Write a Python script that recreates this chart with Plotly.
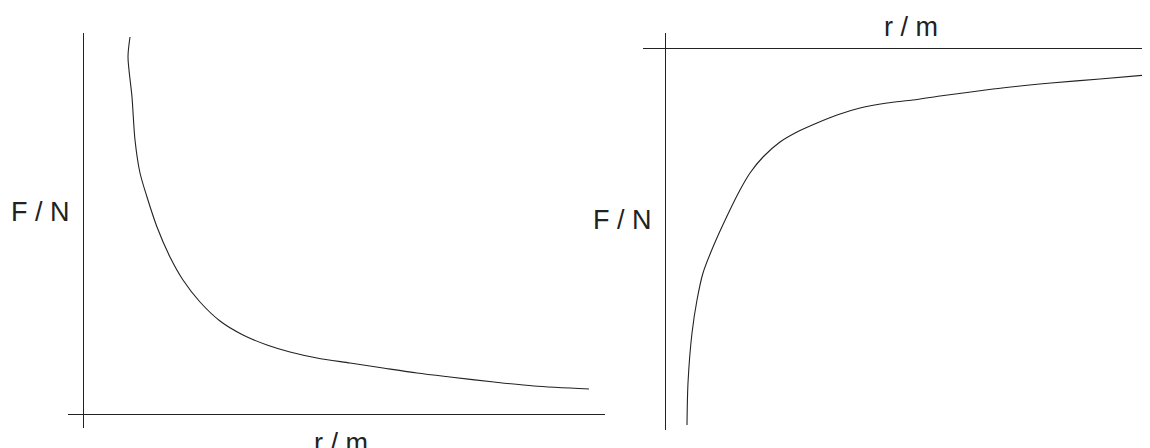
import plotly.graph_objects as go

# left sketch: force falls off with distance (repulsive)
r_left = [4.7, 4.5, 4.9, 5.2, 5.7, 6.4, 7.4, 8.7, 10.0, 11.7, 13.7, 16.0, 18.4, 20.7,
          23.4, 26.7, 30.0, 33.4, 36.7, 41.1, 45.1, 50.6]
f_left = [37.7, 35.7, 31.7, 27.4, 24.1, 21.7, 18.7, 15.7, 13.4, 11.2, 9.3, 7.9, 6.9, 6.2,
          5.6, 5.1, 4.6, 4.1, 3.7, 3.2, 2.8, 2.5]

# right sketch: same shape but below the axis (attractive)
r_right = [2.2, 2.3, 2.7, 3.2, 3.8, 4.8, 6.3, 7.5, 8.5, 9.8, 11.5, 13.2, 15.2, 17.2,
           19.5, 22.2, 24.8, 27.5, 30.2, 32.8, 35.5, 38.6, 43.5, 48.2]
f_right = [-37.7, -33.5, -28.5, -25.2, -22.5, -19.9, -16.6, -14.2, -12.5, -10.9, -9.4,
           -8.4, -7.5, -6.7, -6.0, -5.5, -5.2, -4.8, -4.45, -4.1, -3.8, -3.5, -3.1, -2.7]

ink = "#222222"

# the html page puts the plot 8px in from the top-left corner
W, H = 1142, 440
off = 8


def px_x(p):
    return (p - off) / W


def px_y(p):
    return 1 - (p - off) / H


fig = go.Figure()

fig.add_trace(go.Scatter(
    x=r_left, y=f_left, mode="lines",
    line=dict(color=ink, width=1.1, shape="spline", smoothing=0.8),
    xaxis="x", yaxis="y", showlegend=False, hoverinfo="skip"
))
fig.add_trace(go.Scatter(
    x=r_right, y=f_right, mode="lines",
    line=dict(color=ink, width=1.1, shape="spline", smoothing=0.8),
    xaxis="x2", yaxis="y2", showlegend=False, hoverinfo="skip"
))

# axes are just the zero lines, no ticks or grid
bare = dict(showgrid=False, showticklabels=False, ticks="", showline=False,
            zeroline=True, zerolinecolor=ink, zerolinewidth=1.2, fixedrange=True)

fig.update_layout(
    width=W, height=H,
    margin=dict(l=0, r=0, t=0, b=0),
    paper_bgcolor="white", plot_bgcolor="white",
    font=dict(family="Liberation Sans, Arial, sans-serif", color=ink),
    xaxis=dict(domain=[px_x(68), px_x(605)], range=[-1.5, 52.2], anchor="y", **bare),
    yaxis=dict(domain=[px_y(428), px_y(33)], range=[-1.4, 38.1], anchor="x", **bare),
    xaxis2=dict(domain=[px_x(643), 1.0], range=[-2.2, 48.5], anchor="y2", **bare),
    yaxis2=dict(domain=[px_y(430), px_y(33)], range=[-38.2, 1.5], anchor="x2", **bare),
)

labels = [
    ("F / N", 40, 212),
    ("r / m", 341, 443),
    ("F / N", 622, 220),
    ("r / m", 911, 27),
]
for text, x, y in labels:
    fig.add_annotation(
        text=text, x=px_x(x), y=px_y(y), xref="paper", yref="paper",
        xanchor="center", yanchor="middle", showarrow=False,
        font=dict(size=27, color=ink)
    )

fig.write_html("out.html")
